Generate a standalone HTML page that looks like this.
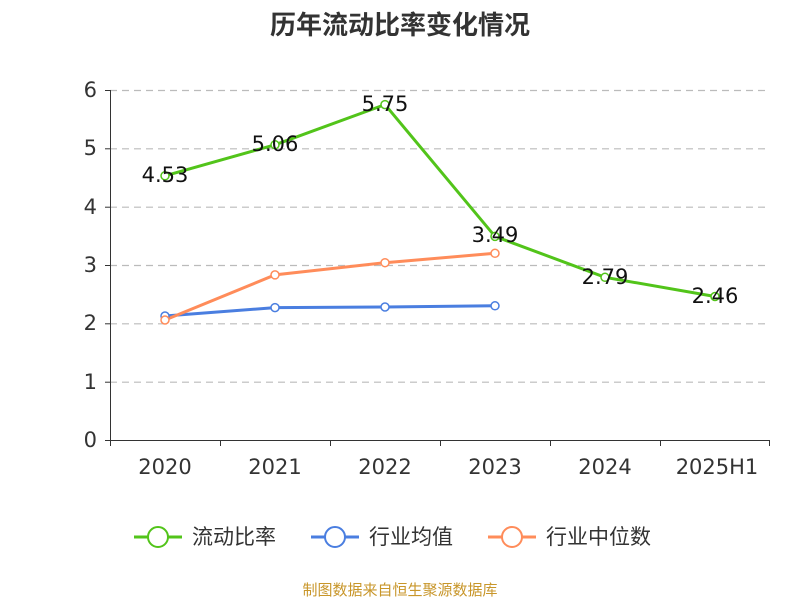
<!DOCTYPE html>
<html><head><meta charset="utf-8"><style>
body{margin:0;background:#fff;}
svg text{font-family:"DejaVu Sans","Noto Sans CJK SC",sans-serif;}
</style></head><body>
<svg width="800" height="600" xmlns="http://www.w3.org/2000/svg">
<rect width="800" height="600" fill="#fff"/>
<text x="400" y="34" text-anchor="middle" font-size="26" font-weight="bold" fill="#333" style="font-family:'Noto Sans CJK SC',sans-serif">历年流动比率变化情况</text>
<g stroke="#bbb" stroke-dasharray="7,5" stroke-width="1.2">
<line x1="110" y1="90.5" x2="770" y2="90.5"/>
<line x1="110" y1="148.8" x2="770" y2="148.8"/>
<line x1="110" y1="207.2" x2="770" y2="207.2"/>
<line x1="110" y1="265.5" x2="770" y2="265.5"/>
<line x1="110" y1="323.8" x2="770" y2="323.8"/>
<line x1="110" y1="382.2" x2="770" y2="382.2"/>
</g>
<line x1="110.5" y1="90" x2="110.5" y2="440" stroke="#333"/>
<line x1="110" y1="440.5" x2="770" y2="440.5" stroke="#333"/>
<g stroke="#333">
<line x1="105" y1="90.5" x2="110" y2="90.5"/><line x1="105" y1="148.8" x2="110" y2="148.8"/>
<line x1="105" y1="207.2" x2="110" y2="207.2"/><line x1="105" y1="265.5" x2="110" y2="265.5"/>
<line x1="105" y1="323.8" x2="110" y2="323.8"/><line x1="105" y1="382.2" x2="110" y2="382.2"/>
<line x1="105" y1="440.5" x2="110" y2="440.5"/>
<line x1="110.5" y1="440" x2="110.5" y2="446"/><line x1="220.5" y1="440" x2="220.5" y2="446"/>
<line x1="330.5" y1="440" x2="330.5" y2="446"/><line x1="440.5" y1="440" x2="440.5" y2="446"/>
<line x1="550.5" y1="440" x2="550.5" y2="446"/><line x1="660.5" y1="440" x2="660.5" y2="446"/>
<line x1="769.5" y1="440" x2="769.5" y2="446"/>
</g>
<g font-size="21" fill="#333" text-anchor="end">
<text x="97" y="97">6</text><text x="97" y="155">5</text><text x="97" y="214">4</text>
<text x="97" y="272">3</text><text x="97" y="330">2</text><text x="97" y="389">1</text><text x="97" y="447">0</text>
</g>
<g font-size="21" fill="#333" text-anchor="middle">
<text x="165" y="474">2020</text><text x="275" y="474">2021</text><text x="385" y="474">2022</text>
<text x="495" y="474">2023</text><text x="605" y="474">2024</text><text x="717" y="474">2025H1</text>
</g>
<polyline fill="none" stroke="#52c41a" stroke-width="3" points="165,175.8 275,144.8 385,104.6 495,236.4 605,277.3 715,296.5"/>
<polyline fill="none" stroke="#4a7ee0" stroke-width="3" points="165,316 275,307.6 385,307 495,305.8"/>
<polyline fill="none" stroke="#ff8c5a" stroke-width="3" points="165,320 275,274.9 385,262.7 495,253.3"/>
<g fill="#fff" stroke-width="1.5">
<g stroke="#52c41a"><circle cx="165" cy="175.8" r="4"/><circle cx="275" cy="144.8" r="4"/><circle cx="385" cy="104.6" r="4"/><circle cx="495" cy="236.4" r="4"/><circle cx="605" cy="277.3" r="4"/><circle cx="715" cy="296.5" r="4"/></g>
<g stroke="#4a7ee0"><circle cx="165" cy="316" r="4"/><circle cx="275" cy="307.6" r="4"/><circle cx="385" cy="307" r="4"/><circle cx="495" cy="305.8" r="4"/></g>
<g stroke="#ff8c5a"><circle cx="165" cy="320" r="4"/><circle cx="275" cy="274.9" r="4"/><circle cx="385" cy="262.7" r="4"/><circle cx="495" cy="253.3" r="4"/></g>
</g>
<g font-size="21" fill="#111" text-anchor="middle">
<text x="165" y="182">4.53</text><text x="275" y="151">5.06</text><text x="385" y="111">5.75</text>
<text x="495" y="242">3.49</text><text x="605" y="284">2.79</text><text x="715" y="303">2.46</text>
</g>
<g stroke-width="3" fill="#fff">
<line x1="134" y1="537" x2="182" y2="537" stroke="#52c41a"/><circle cx="158" cy="537" r="10" stroke="#52c41a" stroke-width="2"/>
<line x1="311" y1="537" x2="359" y2="537" stroke="#4a7ee0"/><circle cx="335" cy="537" r="10" stroke="#4a7ee0" stroke-width="2"/>
<line x1="488" y1="537" x2="536" y2="537" stroke="#ff8c5a"/><circle cx="512" cy="537" r="10" stroke="#ff8c5a" stroke-width="2"/>
</g>
<g font-size="21" fill="#333">
<text x="192" y="544">流动比率</text><text x="369" y="544">行业均值</text><text x="546" y="544">行业中位数</text>
</g>
<text x="400" y="595" text-anchor="middle" font-size="15" fill="#c8962a">制图数据来自恒生聚源数据库</text>
</svg>
</body></html>
